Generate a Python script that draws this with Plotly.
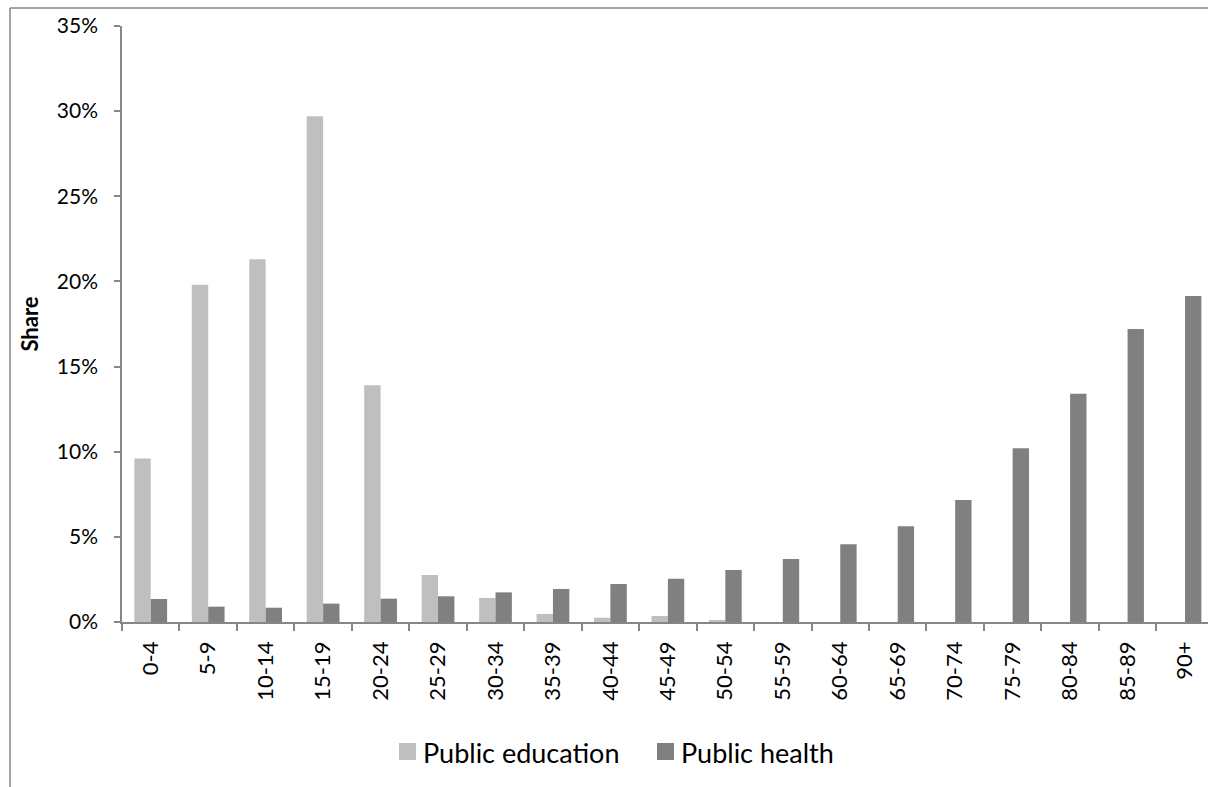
import plotly.graph_objects as go

categories = ["0-4", "5-9", "10-14", "15-19", "20-24", "25-29", "30-34", "35-39", "40-44",
              "45-49", "50-54", "55-59", "60-64", "65-69", "70-74", "75-79", "80-84", "85-89", "90+"]
education = [9.6, 19.8, 21.3, 29.7, 13.9, 2.76, 1.41, 0.47, 0.25, 0.35, 0.12, 0, 0, 0, 0, 0, 0, 0, 0]
health = [1.35, 0.9, 0.84, 1.08, 1.37, 1.51, 1.74, 1.94, 2.23, 2.54, 3.05, 3.7, 4.56, 5.62, 7.16, 10.2, 13.4, 17.2, 19.15]
y_ticks = [0, 5, 10, 15, 20, 25, 30, 35]
y_labels = ["0%", "5%", "10%", "15%", "20%", "25%", "30%", "35%"]
series_names = ["Public education", "Public health"]
series_colors = ["#BFBFBF", "#808080"]

FONT = "Lato, 'Open Sans', sans-serif"
AXIS = "#868686"

fig = go.Figure()
for vals, name, col in zip([education, health], series_names, series_colors):
    fig.add_trace(go.Bar(x=categories, y=vals, name=name, showlegend=False,
                         marker=dict(color=col, line=dict(width=0))))

W, H = 1208, 787
L, R, T, B = 122, 0, 26, 165
pw, ph = W - L - R, H - T - B

def px(x):
    return (x - L) / pw

def py(y):
    return (H - B - y) / ph

fig.update_layout(
    width=W, height=H,
    margin=dict(l=L, r=R, t=T, b=B),
    paper_bgcolor="white", plot_bgcolor="white",
    barmode="group", bargap=0.43, bargroupgap=0,
    font=dict(family=FONT, size=21, color="#000000"),
    showlegend=False,
    xaxis=dict(type="category", range=[-0.5, 18.4], showline=True, linecolor=AXIS, linewidth=1.5,
               ticks="outside", tickson="boundaries", ticklen=7, tickcolor=AXIS, tickwidth=1.5,
               tickangle=-90, tickfont=dict(size=22), ticklabelstandoff=9,
               showgrid=False, zeroline=False),
    yaxis=dict(range=[0, 35], tickvals=y_ticks, ticktext=y_labels, showline=True, linecolor=AXIS,
               linewidth=1.5, ticks="outside", ticklen=6, tickcolor=AXIS, tickwidth=1.5,
               showgrid=False, zeroline=False, tickfont=dict(size=21), ticklabelstandoff=12,
               title=dict(text="<b>Share</b>", font=dict(size=22), standoff=12)),
)

# legend drawn as swatches + text
legend_x = [399, 657]
for lx, name, col in zip(legend_x, series_names, series_colors):
    fig.add_shape(type="rect", xref="paper", yref="paper", x0=px(lx), x1=px(lx + 17),
                  y0=py(760), y1=py(743), fillcolor=col, line=dict(width=0))
    fig.add_annotation(xref="paper", yref="paper", x=px(lx + 22), y=py(752), text=name,
                       showarrow=False, xanchor="left", yanchor="middle",
                       font=dict(size=27, family=FONT, color="#000000"))

# outer chart frame (top and left edges visible)
fig.add_shape(type="line", xref="paper", yref="paper", x0=px(10), x1=1.01, y0=py(8), y1=py(8),
              line=dict(color="#868686", width=1.5))
fig.add_shape(type="line", xref="paper", yref="paper", x0=px(10), x1=px(10), y0=py(8), y1=py(800),
              line=dict(color="#868686", width=1.5))

fig.write_html("out.html")
